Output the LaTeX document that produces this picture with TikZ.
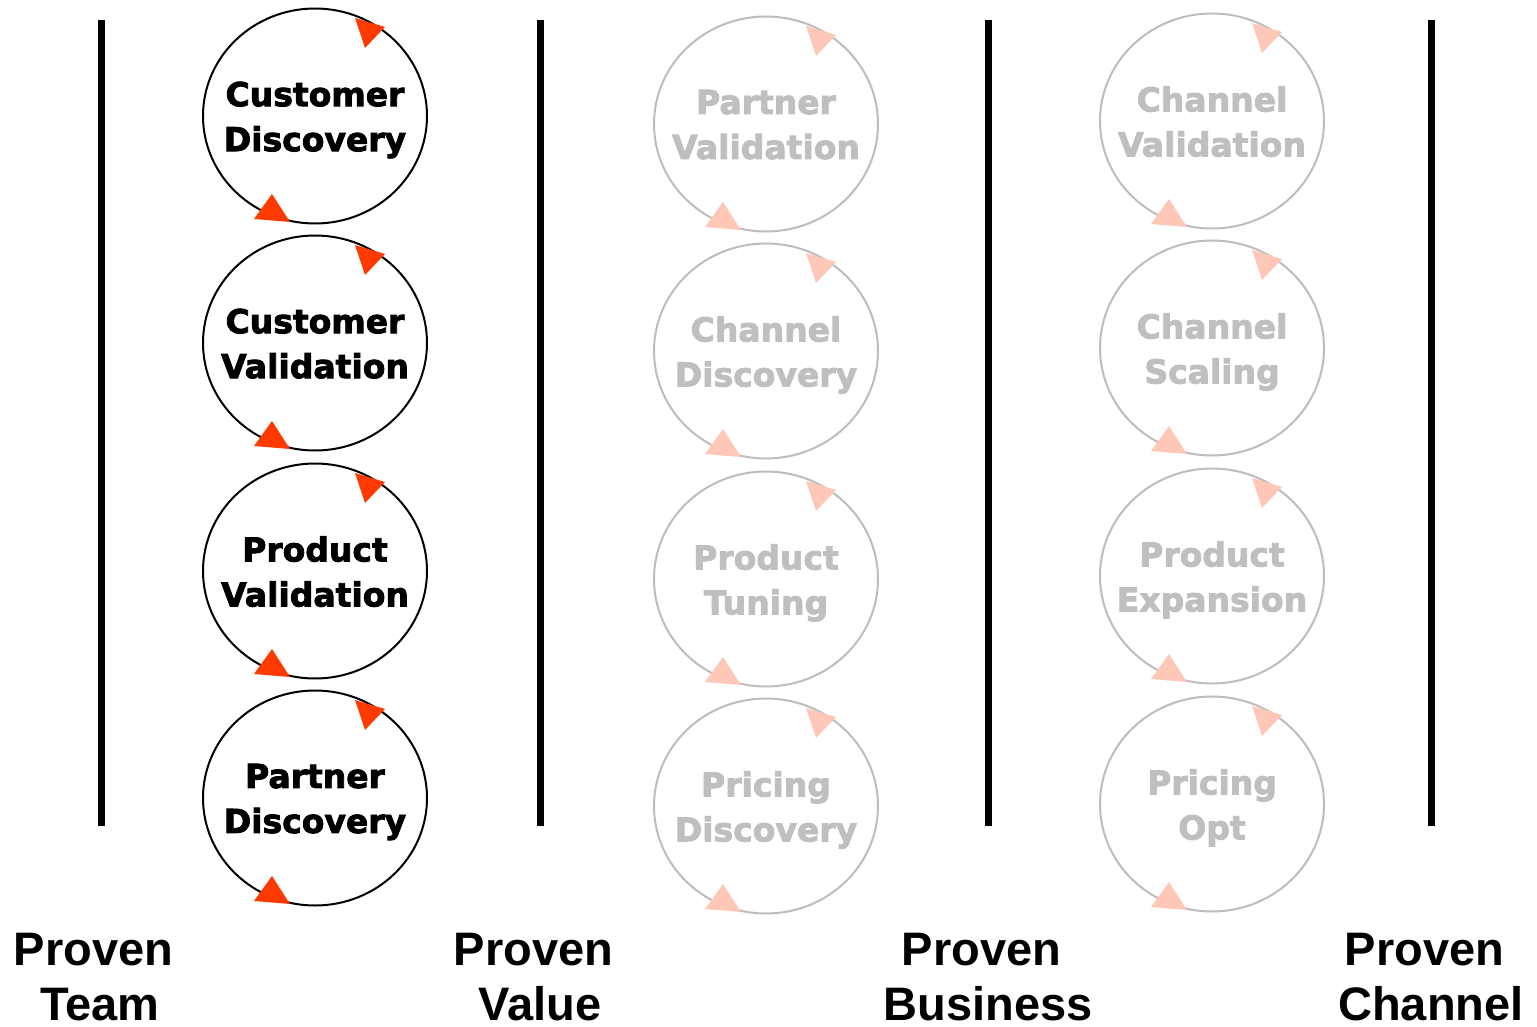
\documentclass[tikz,border=0pt]{standalone}
\usepackage{fontspec}
\newfontfamily\circfont{DejaVu Sans}[BoldFont={DejaVu Sans Bold},BoldFeatures={FakeBold=2.5}]
\newfontfamily\labfont{Liberation Sans}
\definecolor{arrred}{HTML}{FF3A00}
\definecolor{arrpink}{HTML}{FFC7B8}
\definecolor{fadetext}{HTML}{BFBFBF}
\definecolor{fadeline}{HTML}{BDBDBD}
\tikzset{
  cyctext/.style={inner sep=0pt, align=center, yshift=-4pt, font=\circfont\bfseries\fontsize{33}{45}\selectfont},
  cycon/.style={cyctext, text=black},
  cycoff/.style={cyctext, text=fadetext},
  ringon/.style={draw=black, line width=2pt},
  ringoff/.style={draw=fadeline, line width=2pt},
  bar/.style={line width=7pt, black},
  proven/.style={align=center, font=\labfont\bfseries\fontsize{47}{55}\selectfont, inner sep=0pt}
}
\newcommand\cyclenode[7]{%
  \coordinate (#1c) at (#2,#3);
  \draw[#6] (#1c) ellipse [x radius=112, y radius=107.5];
  \node[#5] (#1) at (#1c) {#4\vphantom{y}};
  \fill[#7] ([shift={(40,-98)}]#1c) -- ([shift={(70,-89)}]#1c) -- ([shift={(50,-68)}]#1c) -- cycle;
  \fill[#7] ([shift={(-43,78)}]#1c) -- ([shift={(-61,103)}]#1c) -- ([shift={(-25,106)}]#1c) -- cycle;
}
\begin{document}
\begin{tikzpicture}[x=1pt,y=-1pt]
\useasboundingbox[fill=white] (0,0) rectangle (1537,1027);
% vertical bars
\coordinate (b1t) at (101,20); \coordinate (b1b) at (101,826);
\coordinate (b2t) at (540,20); \coordinate (b2b) at (540,826);
\coordinate (b3t) at (988,20); \coordinate (b3b) at (988,826);
\coordinate (b4t) at (1431,20); \coordinate (b4b) at (1431,826);
\draw[bar] (b1t) -- (b1b);
\draw[bar] (b2t) -- (b2b);
\draw[bar] (b3t) -- (b3b);
\draw[bar] (b4t) -- (b4b);
% column 1
\cyclenode{a1}{315}{116}{Customer\\Discovery}{cycon}{ringon}{arrred}
\cyclenode{a2}{315}{343}{Customer\\Validation}{cycon}{ringon}{arrred}
\cyclenode{a3}{315}{571}{Product\\Validation}{cycon}{ringon}{arrred}
\cyclenode{a4}{315}{798}{Partner\\Discovery}{cycon}{ringon}{arrred}
% column 2
\cyclenode{c1}{766}{124}{Partner\\Validation}{cycoff}{ringoff}{arrpink}
\cyclenode{c2}{766}{351}{Channel\\Discovery}{cycoff}{ringoff}{arrpink}
\cyclenode{c3}{766}{579}{Product\\Tuning}{cycoff}{ringoff}{arrpink}
\cyclenode{c4}{766}{806}{Pricing\\Discovery}{cycoff}{ringoff}{arrpink}
% column 3
\cyclenode{d1}{1212}{121}{Channel\\Validation}{cycoff}{ringoff}{arrpink}
\cyclenode{d2}{1212}{348}{Channel\\Scaling}{cycoff}{ringoff}{arrpink}
\cyclenode{d3}{1212}{576}{Product\\Expansion}{cycoff}{ringoff}{arrpink}
\cyclenode{d4}{1212}{804}{Pricing\\Opt}{cycoff}{ringoff}{arrpink}
% labels
\node[proven] (l1) at (100,977) {Proven\hspace*{13pt}\\Team};
\node[proven] (l2) at (540,977) {Proven\hspace*{13pt}\\Value};
\node[proven] (l3) at (988,977) {Proven\hspace*{13pt}\\Business};
\node[proven] (l4) at (1431,977) {Proven\hspace*{13pt}\\Channel};
\end{tikzpicture}
\end{document}
